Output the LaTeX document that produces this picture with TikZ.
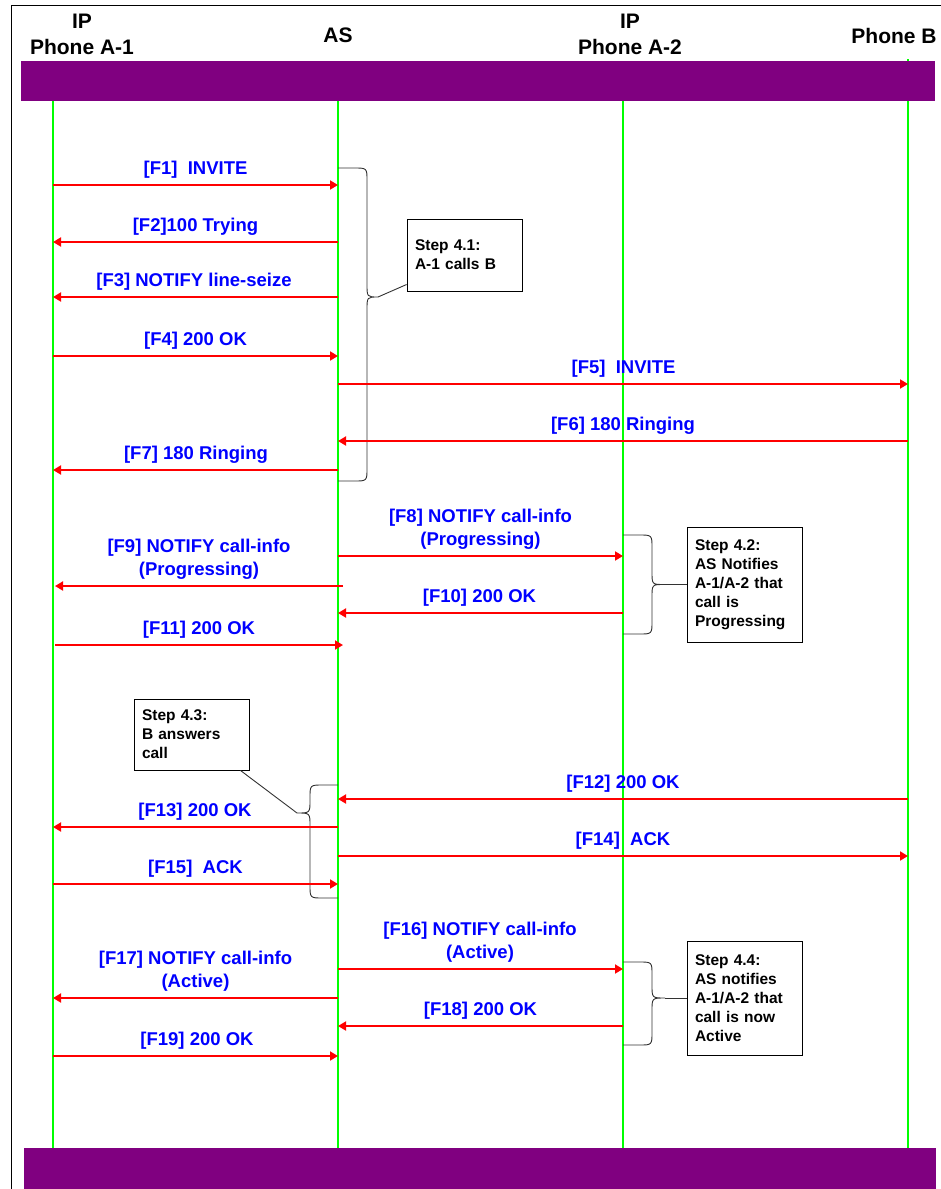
\documentclass[tikz,border=0pt]{standalone}
\usepackage{fontspec}
\setmainfont{Liberation Sans}
\usetikzlibrary{arrows.meta,calc}
\definecolor{lifegreen}{RGB}{0,255,0}
\definecolor{msgred}{RGB}{255,0,0}
\definecolor{lblblue}{RGB}{0,0,255}
\definecolor{barpurple}{RGB}{128,0,128}
\newcommand\mymsg[6]{%
  \coordinate (#1s) at (#2,#4);
  \coordinate (#1e) at (#3,#4);
  \draw[msg] (#1s) -- (#1e);
  \node[msglabel] (#1l) at (#5,#4-11) {#6};
}
\newcommand\mybrace[8]{%
  % #1 name, #2 x0, #3 xv, #4 xtip, #5 ytop, #6 ytip, #7 ybot, #8 signed rx
  \coordinate (#1tip) at (#4,#6);
  \draw[bracepath] (#2,#5) -- ({#3-#8},#5) .. controls (#3,#5) .. (#3,#5+13)
    -- (#3,#6-13) .. controls (#3,#6) .. (#1tip)
    .. controls (#3,#6) .. (#3,#6+13)
    -- (#3,#7-13) .. controls (#3,#7) .. ({#3-#8},#7) -- (#2,#7);
}
\begin{document}
\begin{tikzpicture}[x=1pt,y=-1pt,
  lifeline/.style={draw=lifegreen,line width=1.6pt},
  msg/.style={draw=msgred,line width=1.8pt,-{Triangle[length=8pt,width=9pt]}},
  msglabel/.style={text=lblblue,font=\fontsize{18.5}{23}\selectfont\bfseries,align=center,anchor=base,inner sep=0pt},
  header/.style={font=\fontsize{21}{26}\selectfont\bfseries,align=center,inner sep=0pt},
  stepbox/.style={draw=black,line width=0.8pt,fill=white,font=\fontsize{15.5}{19}\selectfont\bfseries,align=left,text width=99pt,inner xsep=8pt,inner ysep=0pt,minimum width=115pt},
  bracepath/.style={draw=black!80,line width=0.9pt},
  bar/.style={fill=barpurple,draw=none},
  frameline/.style={draw=black,line width=1pt}
]
\useasboundingbox (0,0) rectangle (941,1189);
% frame
\coordinate (fTL) at (11,5);
\coordinate (fTR) at (941,5);
\coordinate (fBL) at (11,1189);
\draw[frameline] (fTR) -- (fTL) -- (fBL);
% headers
\node[header] (hA1) at (82,34.5) {IP\\Phone A-1};
\node[header] (hAS) at (338,35.5) {AS};
\node[header] (hA2) at (630,34.5) {IP\\Phone A-2};
\node[header] (hB) at (894,35.5) {Phone B};
% lifelines
\coordinate (A1t) at (53,100); \coordinate (A1b) at (53,1148);
\coordinate (ASt) at (338,100); \coordinate (ASb) at (338,1148);
\coordinate (A2t) at (623,100); \coordinate (A2b) at (623,1148);
\coordinate (Bt) at (908,59); \coordinate (Bb) at (908,1148);
\draw[lifeline] (A1t) -- (A1b);
\draw[lifeline] (ASt) -- (ASb);
\draw[lifeline] (A2t) -- (A2b);
\draw[lifeline] (Bt) -- (Bb);
% bars
\node[bar,anchor=north west,minimum width=914pt,minimum height=40pt,inner sep=0pt] (topbar) at (21,61) {};
\node[bar,anchor=north west,minimum width=912pt,minimum height=41pt,inner sep=0pt] (botbar) at (24,1148) {};
% braces (drawn before messages)
\mybrace{b1}{338}{367}{378}{168}{297}{481}{13}
\mybrace{b2}{623}{652}{664}{535}{584.5}{634}{13}
\mybrace{b3}{338}{310}{297}{785}{813}{898}{-13}
\mybrace{b4}{623}{652}{665}{962}{998}{1045}{13}
% step boxes
\node[stepbox,minimum height=72pt] (step1) at (464.5,255) {Step 4.1:\\A-1 calls B};
\node[stepbox,minimum height=115pt] (step2) at (744.5,584.5) {Step 4.2:\\AS Notifies\\A-1/A-2 that\\call is\\Progressing};
\node[stepbox,minimum height=71pt] (step3) at (191.5,734.5) {Step 4.3:\\B answers\\call};
\node[stepbox,minimum height=114pt] (step4) at (744.5,998) {Step 4.4:\\AS notifies\\A-1/A-2 that\\call is now\\Active};
\draw[bracepath] (b1tip) -- (step1.207);
\draw[bracepath] (b2tip) -- (step2.west);
\draw[bracepath] (b3tip) -- ($(step3.south east)+(-9,0)$);
\draw[bracepath] (b4tip) -- (step4.west);
% messages
\mymsg{m1}{53}{338}{185}{195.5}{[F1]\ \ INVITE}
\mymsg{m2}{338}{53}{242}{195.5}{[F2]100 Trying}
\mymsg{m3}{338}{53}{297}{194}{[F3] NOTIFY line-seize}
\mymsg{m4}{53}{338}{356}{195.5}{[F4] 200 OK}
\mymsg{m5}{338}{908}{384}{623.5}{[F5]\ \ INVITE}
\mymsg{m6}{908}{338}{441}{623}{[F6] 180 Ringing}
\mymsg{m7}{338}{53}{470}{196}{[F7] 180 Ringing}
\mymsg{m8}{338}{623}{556}{480.5}{[F8] NOTIFY call-info\\(Progressing)}
\mymsg{m9}{343}{55}{586}{199}{[F9] NOTIFY call-info\\(Progressing)}
\mymsg{m10}{623}{338}{613}{479.5}{[F10] 200 OK}
\mymsg{m11}{55}{343}{645}{199}{[F11] 200 OK}
\mymsg{m12}{908}{338}{799}{623}{[F12] 200 OK}
\mymsg{m13}{338}{53}{827}{195}{[F13] 200 OK}
\mymsg{m14}{338}{908}{856}{623}{[F14]\ \ ACK}
\mymsg{m15}{53}{338}{884}{195.5}{[F15]\ \ ACK}
\mymsg{m16}{338}{623}{969}{480}{[F16] NOTIFY call-info\\(Active)}
\mymsg{m17}{338}{53}{998}{195.5}{[F17] NOTIFY call-info\\(Active)}
\mymsg{m18}{623}{338}{1026}{480.5}{[F18] 200 OK}
\mymsg{m19}{53}{338}{1056}{197}{[F19] 200 OK}
\end{tikzpicture}
\end{document}
